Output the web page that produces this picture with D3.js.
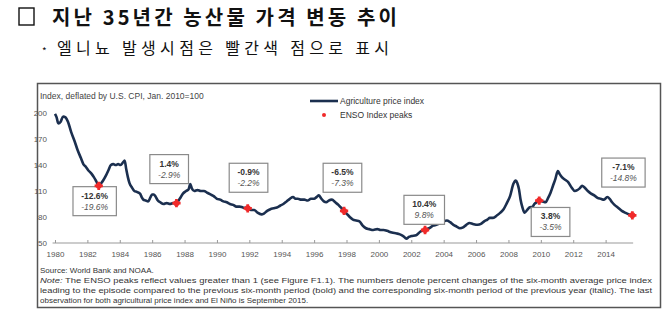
<!doctype html>
<html>
<head>
  <meta charset="utf-8">
  <title>지난 35년간 농산물 가격 변동 추이</title>
  <script src="https://cdnjs.cloudflare.com/ajax/libs/d3/7.8.5/d3.min.js"></script>
  <style>
  body { margin: 0; background: #fff; }
  svg { display: block; }
  .chart text { font-family: "Liberation Sans", Arial, sans-serif; fill: #333; }
  .line { fill: none; stroke: #1b2f4f; stroke-width: 2.6px; stroke-linejoin: round; }
  .x.axis text { fill: #555; font-size: 8px; }
  .x.axis path, .x.axis line { stroke: #999; }
  </style>
</head>
<body>
  <script>
  // agricultural price index (deflated, Jan 2010 = 100)
  var years = [
    1980.0, 1980.1, 1980.2, 1980.35, 1980.5, 1980.65, 1980.8, 1981.0, 1981.2, 1981.4,
    1981.6, 1981.75, 1981.9, 1982.05, 1982.25, 1982.4, 1982.55, 1982.7, 1982.85, 1983.0,
    1983.15, 1983.3, 1983.45, 1983.6, 1983.75, 1983.9, 1984.05, 1984.2, 1984.3, 1984.4,
    1984.5, 1984.6, 1984.75, 1984.9, 1985.05, 1985.25, 1985.35, 1985.45, 1985.6, 1985.75,
    1985.9, 1986.0, 1986.1, 1986.2, 1986.35, 1986.5, 1986.7, 1986.9, 1987.1, 1987.3,
    1987.5, 1987.7, 1987.9, 1988.1, 1988.25, 1988.35, 1988.45, 1988.6, 1988.8, 1989.0,
    1989.2, 1989.4, 1989.6, 1989.8, 1990.0, 1990.2, 1990.4, 1990.6, 1990.8, 1991.0,
    1991.2, 1991.4, 1991.6, 1991.9, 1992.1, 1992.3, 1992.5, 1992.75, 1992.9, 1993.1,
    1993.3, 1993.5, 1993.7, 1993.9, 1994.1, 1994.3, 1994.5, 1994.7, 1994.85, 1995.0,
    1995.2, 1995.4, 1995.6, 1995.8, 1996.0, 1996.15, 1996.3, 1996.45, 1996.6, 1996.75,
    1996.9, 1997.1, 1997.3, 1997.5, 1997.65, 1997.85, 1998.0, 1998.2, 1998.4, 1998.6,
    1998.8, 1999.0, 1999.2, 1999.4, 1999.65, 1999.9, 2000.1, 2000.3, 2000.5, 2000.8,
    2001.1, 2001.3, 2001.5, 2001.7, 2001.85, 2002.0, 2002.3, 2002.55, 2002.85, 2003.1,
    2003.35, 2003.55, 2003.8, 2004.0, 2004.2, 2004.4, 2004.6, 2004.8, 2005.0, 2005.2,
    2005.4, 2005.6, 2005.8, 2006.1, 2006.3, 2006.5, 2006.7, 2006.85, 2007.05, 2007.3,
    2007.5, 2007.7, 2007.9, 2008.1, 2008.3, 2008.45, 2008.55, 2008.65, 2008.75, 2008.85,
    2009.0, 2009.15, 2009.3, 2009.5, 2009.6, 2009.75, 2009.9, 2010.1, 2010.3, 2010.45,
    2010.6, 2010.75, 2010.9, 2011.05, 2011.15, 2011.3, 2011.5, 2011.7, 2011.9, 2012.1,
    2012.25, 2012.4, 2012.55, 2012.7, 2012.9, 2013.1, 2013.3, 2013.5, 2013.7, 2013.9,
    2014.1, 2014.25, 2014.4, 2014.55, 2014.75, 2015.0, 2015.2, 2015.45, 2015.65
  ];
  var priceIndex = [
    199, 195, 188, 190, 196, 195, 190, 178, 168, 157,
    148, 141, 138, 134, 130, 126, 121, 116, 119, 123,
    128, 134, 140, 141, 140, 141, 140, 143, 145, 135,
    126, 119, 114, 110, 109, 107, 103, 100, 99, 98,
    103, 106, 106, 104, 99, 97, 95, 96, 95, 96,
    96, 101, 107, 110, 112, 118, 113, 110, 111, 110,
    110, 108, 106, 104, 101, 100, 98, 97, 95, 94,
    92, 92, 91, 90, 88, 88, 85, 83, 84, 87,
    89, 90, 91, 93, 95, 98, 101, 103, 101, 101,
    100, 100, 99, 101, 101, 103, 105, 101, 98, 97,
    99, 100, 97, 94, 91, 87, 84, 80, 77, 76,
    75, 70, 67, 66, 65, 66, 65, 65, 64, 62,
    61, 60, 58, 55, 57, 58, 59, 63, 65, 67,
    70, 71, 73, 75, 76, 74, 71, 69, 67, 68,
    71, 73, 72, 71, 72, 75, 77, 79, 79, 82,
    85, 89, 96, 104, 118, 122, 119, 112, 100, 92,
    85, 88, 91, 92, 95, 97, 99, 98, 97, 102,
    108, 116, 124, 133, 130, 126, 123, 120, 114, 110,
    111, 113, 116, 114, 110, 107, 105, 102, 101, 100,
    103, 101, 97, 94, 91, 87, 85, 83, 82
  ];

  // ENSO index peaks
  var ensoYears = [1982.7, 1987.5, 1991.9, 1997.85, 2002.85, 2009.9, 2015.65];
  var ensoValues = [116, 96, 90, 87, 65, 99, 82];

  // annotation boxes: bold = vs previous six months, italic = vs same period a year earlier
  var noteBold = ["-12.6%", "1.4%", "-0.9%", "-6.5%", "10.4%", "3.8%", "-7.1%"];
  var noteItalic = ["-19.6%", "-2.9%", "-2.2%", "-7.3%", "9.8%", "-3.5%", "-14.8%"];
  var noteYears = [1982.45, 1987.05, 1991.95, 1997.75, 2002.8, 2010.6, 2015.1];
  var noteTopValues = [115, 152, 142, 142, 105, 91, 148];

  var yTicks = [50, 80, 110, 140, 170, 200];
  var xTicks = d3.range(1980, 2015, 2);

  var svg = d3.select("body").append("svg")
      .attr("width", 670)
      .attr("height", 324);

  // heading (Korean)
  var head = svg.append("g")
      .style("font-family", "'Noto Sans CJK KR', sans-serif")
      .style("fill", "#111");
  head.append("rect")
      .attr("x", 19).attr("y", 8)
      .attr("width", 15).attr("height", 17)
      .attr("fill", "none").attr("stroke", "#111").attr("stroke-width", 1.4);
  head.append("text")
      .attr("x", 52).attr("y", 25)
      .attr("textLength", 345)
      .attr("lengthAdjust", "spacing")
      .style("font-size", "20px").style("font-weight", "bold")
      .text("지난 35년간 농산물 가격 변동 추이");
  head.append("text")
      .attr("x", 42).attr("y", 55)
      .style("font-size", "10px")
      .text("*");
  head.append("text")
      .attr("x", 57).attr("y", 54)
      .attr("textLength", 332)
      .attr("lengthAdjust", "spacing")
      .style("font-size", "16px")
      .text("엘니뇨 발생시점은 빨간색 점으로 표시");

  // chart frame
  var chart = svg.append("g").attr("class", "chart");
  chart.append("rect")
      .attr("x", 37.5).attr("y", 83.5)
      .attr("width", 623).attr("height", 224)
      .attr("fill", "#fff").attr("stroke", "#555").attr("stroke-width", 1.5);

  var x = d3.scaleLinear().domain([1980, 2016]).range([55, 638]);
  var y = d3.scaleLinear().domain([50, 200]).range([243, 113]);

  chart.append("text")
      .attr("x", 40).attr("y", 99)
      .style("font-size", "8.5px").style("fill", "#444")
      .text("Index, deflated by U.S. CPI, Jan. 2010=100");

  // y labels (no axis line)
  chart.append("g")
    .selectAll("text")
    .data(yTicks)
    .join("text")
      .attr("x", 47)
      .attr("y", function(d) { return y(d); })
      .attr("dy", "0.32em")
      .style("text-anchor", "end")
      .style("font-size", "8px")
      .style("fill", "#555")
      .text(function(d) { return d; });

  var xAxis = d3.axisBottom(x)
      .tickValues(xTicks)
      .tickFormat(d3.format("d"))
      .tickSize(-3)
      .tickPadding(8);

  var gx = chart.append("g")
      .attr("class", "x axis")
      .attr("transform", "translate(0," + y(50) + ")")
      .call(xAxis);
  gx.select(".domain").attr("d", "M" + x(1979.85) + ",0H" + x(2015.7));
  gx.selectAll(".tick text").attr("font-family", null);

  var series = years.map(function(t, i) { return [t, priceIndex[i]]; });
  var line = d3.line()
      .x(function(d) { return x(d[0]); })
      .y(function(d) { return y(d[1]); })
      .curve(d3.curveMonotoneX);

  chart.append("path")
      .datum(series)
      .attr("class", "line")
      .attr("d", line);

  // annotation boxes
  var notes = chart.append("g").selectAll("g")
    .data(noteBold.map(function(b, i) {
      return { bold: b, italic: noteItalic[i], t: noteYears[i], v: noteTopValues[i] };
    }))
    .join("g")
      .attr("transform", function(d) { return "translate(" + x(d.t) + "," + y(d.v) + ")"; });

  notes.append("text")
      .attr("y", 12)
      .style("text-anchor", "middle")
      .style("font-size", "8.5px").style("font-weight", "bold")
      .text(function(d) { return d.bold; });
  notes.append("text")
      .attr("y", 23)
      .style("text-anchor", "middle")
      .style("font-size", "8.5px").style("font-style", "italic").style("fill", "#555")
      .text(function(d) { return d.italic; });
  notes.each(function() {
    var g = d3.select(this),
        w = Math.max.apply(null, g.selectAll("text").nodes().map(function(n) { return n.getBBox().width; })) + 16;
    g.insert("rect", "text")
      .attr("x", -w / 2).attr("y", 0)
      .attr("width", w).attr("height", 29)
      .attr("fill", "#fff").attr("stroke", "#8a8a8a").attr("stroke-width", 1.2);
  });

  // ENSO markers
  var marks = chart.append("g").selectAll("g")
    .data(ensoYears.map(function(t, i) { return [t, ensoValues[i]]; }))
    .join("g")
      .attr("transform", function(d) { return "translate(" + x(d[0]) + "," + y(d[1]) + ")"; })
      .attr("fill", "#f02a2a");
  marks.append("path").attr("d", d3.symbol().type(d3.symbolCross).size(38));
  marks.append("circle").attr("r", 3);

  // legend
  var legend = chart.append("g").style("font-size", "8.5px");
  legend.append("line")
      .attr("x1", 310).attr("x2", 338).attr("y1", 101).attr("y2", 101)
      .attr("stroke", "#1b2f4f").attr("stroke-width", 2.6);
  legend.append("text").attr("x", 340).attr("y", 104).text("Agriculture price index");
  legend.append("circle").attr("cx", 324).attr("cy", 115).attr("r", 2).attr("fill", "#f02a2a");
  legend.append("text").attr("x", 340).attr("y", 118).text("ENSO Index peaks");

  // source and note
  var foot = chart.append("g").style("font-size", "8px");
  foot.append("text").attr("x", 40).attr("y", 273).text("Source: World Bank and NOAA.");
  var l1 = foot.append("text").attr("x", 40).attr("y", 283)
      .attr("textLength", 612).attr("lengthAdjust", "spacingAndGlyphs");
  l1.append("tspan").style("font-style", "italic").text("Note:");
  l1.append("tspan").text(" The ENSO peaks reflect values greater than 1 (see Figure F1.1). The numbers denote percent changes of the six-month average price index");
  foot.append("text").attr("x", 40).attr("y", 293)
      .attr("textLength", 612).attr("lengthAdjust", "spacingAndGlyphs")
      .text("leading to the episode compared to the previous six-month period (bold) and the corresponding six-month period of the previous year (italic). The last");
  foot.append("text").attr("x", 40).attr("y", 303)
      .text("observation for both agricultural price index and El Niño is September 2015.");
  </script>
</body>
</html>
